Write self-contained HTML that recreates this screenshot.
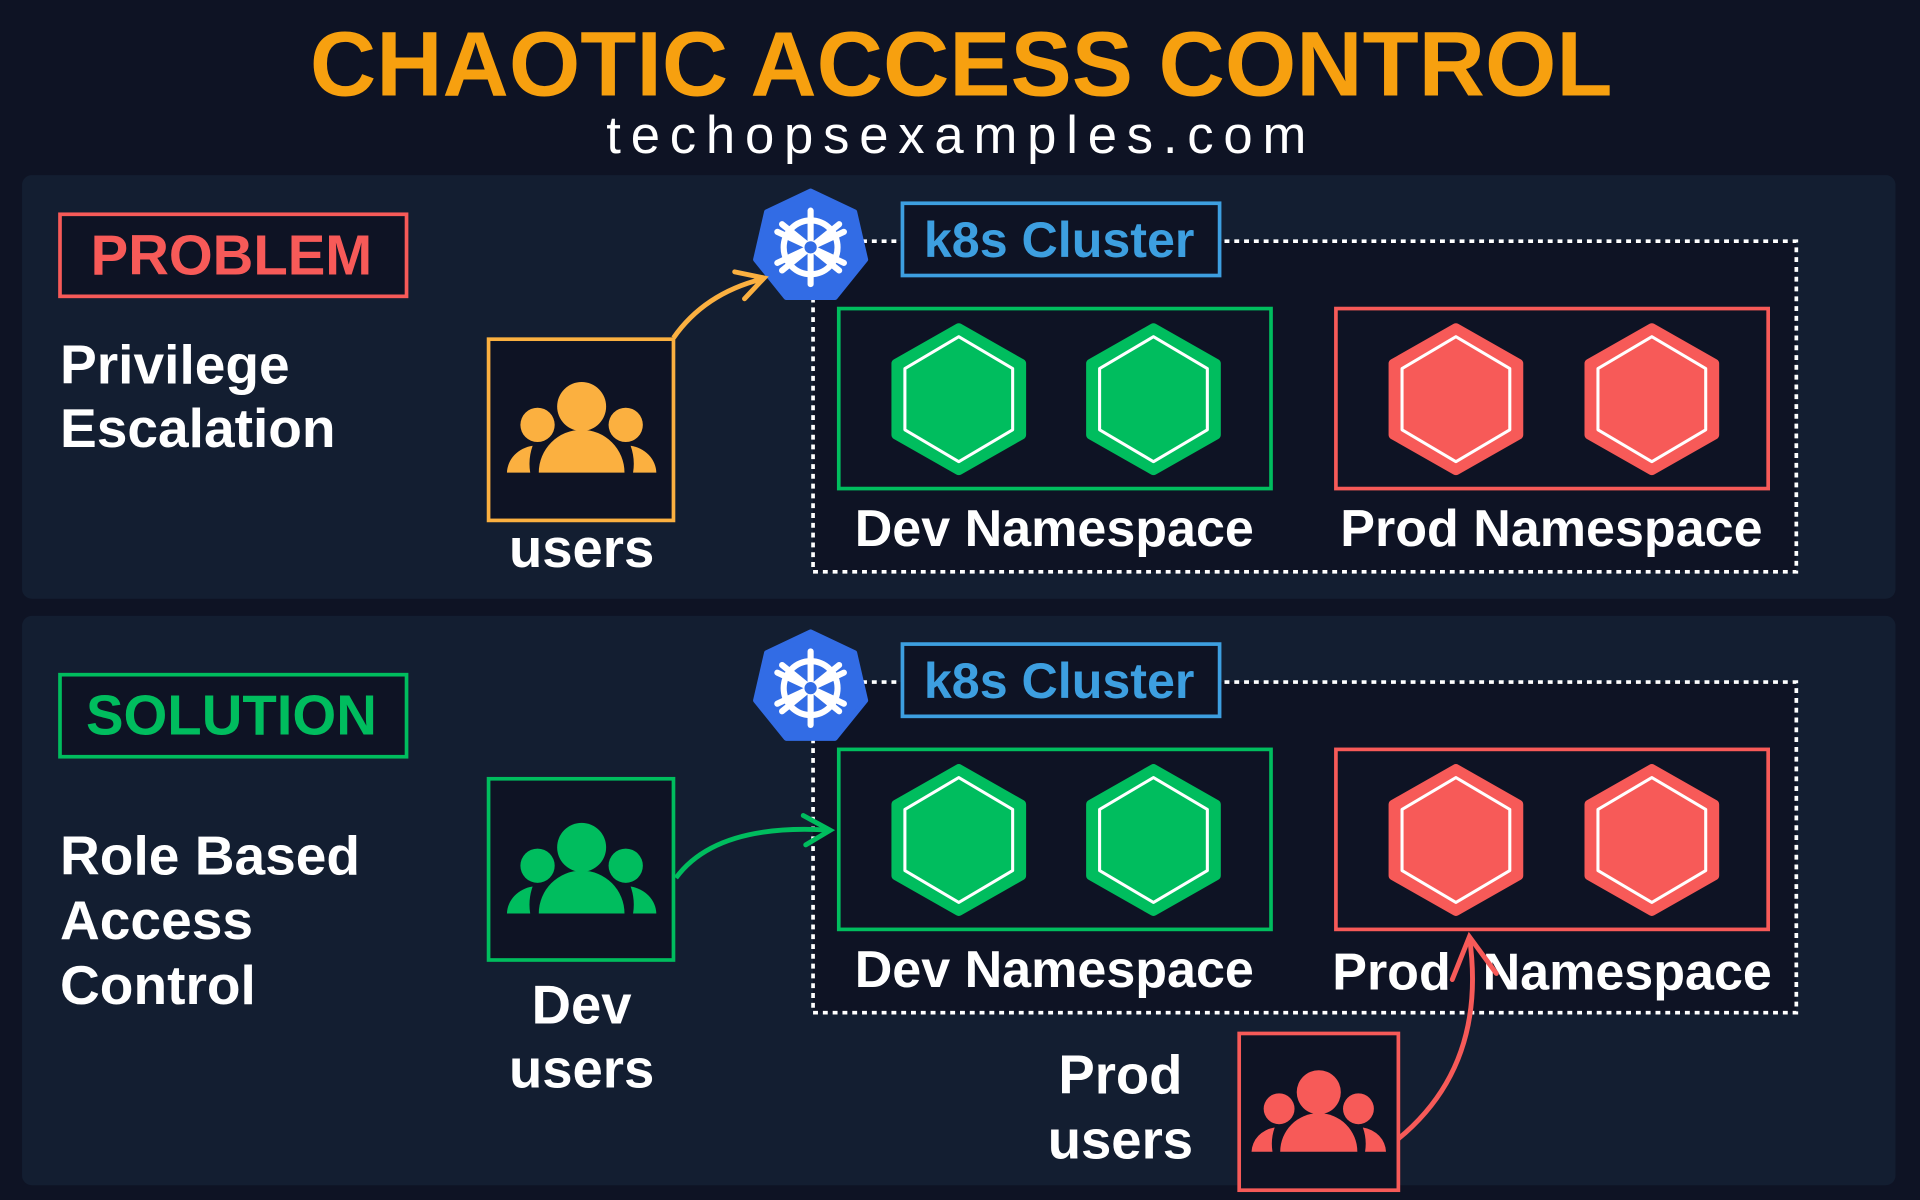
<!DOCTYPE html>
<html><head><meta charset="utf-8"><style>
html,body{margin:0;padding:0;background:#0e1324;}
svg{display:block}
text{font-family:"Liberation Sans",Arial,sans-serif;font-weight:bold}
</style></head><body>
<svg width="1920" height="1200" viewBox="0 0 1568 980" xmlns="http://www.w3.org/2000/svg">
<defs>
<g id="users">
  <circle cx="0" cy="-40" r="20"/>
  <circle cx="-36" cy="-25" r="14"/>
  <circle cx="36" cy="-25" r="14"/>
  <path d="M-35,14 A35,35 0 0 1 35,14 Z"/>
  <path d="M-61,14 A25,23 0 0 1 -40,-8 A44,44 0 0 0 -42,14 Z"/>
  <path d="M61,14 A25,23 0 0 0 40,-8 A44,44 0 0 1 42,14 Z"/>
</g>
<g id="k8s">
  <polygon points="0,-46 36,-29 45,10 20,41 -20,41 -45,10 -36,-29" fill="#326ce5" stroke="#326ce5" stroke-width="4" stroke-linejoin="round"/>
  <g stroke="#fff" stroke-width="5" fill="none" stroke-linecap="round">
    <circle cx="0" cy="0" r="22"/>
    <line x1="0" y1="-30" x2="0" y2="30"/>
    <line x1="-30" y1="0" x2="30" y2="0" transform="rotate(25)"/>
    <line x1="-30" y1="0" x2="30" y2="0" transform="rotate(-25)"/>
    <line x1="0" y1="-30" x2="0" y2="30" transform="rotate(51)"/>
    <line x1="0" y1="-30" x2="0" y2="30" transform="rotate(-51)"/>
  </g>
  <circle cx="0" cy="0" r="5" fill="#326ce5"/>
</g>
<g id="hexg">
  <polygon points="0,-58 51,-29 51,29 0,58 -51,29 -51,-29" fill="#00bd5e" stroke="#00bd5e" stroke-width="8" stroke-linejoin="round"/>
  <polygon points="0,-51 44,-25 44,25 0,51 -44,25 -44,-25" fill="none" stroke="#fff" stroke-width="2.5" stroke-linejoin="round"/>
</g>
<g id="hexr">
  <polygon points="0,-58 51,-29 51,29 0,58 -51,29 -51,-29" fill="#f75a58" stroke="#f75a58" stroke-width="8" stroke-linejoin="round"/>
  <polygon points="0,-51 44,-25 44,25 0,51 -44,25 -44,-25" fill="none" stroke="#fff" stroke-width="2.5" stroke-linejoin="round"/>
</g>
<g id="cluster">
  <rect x="664" y="197" width="803" height="270" fill="#0e1324" stroke="#fff" stroke-width="3" stroke-dasharray="4 4"/>
  <use href="#k8s" x="662" y="202"/>
  <rect x="737" y="166" width="259" height="59" fill="#0e1324" stroke="#3d9fe0" stroke-width="3"/>
  <text x="865" y="210" font-size="41" fill="#3d9fe0" text-anchor="middle">k8s Cluster</text>
  <rect x="685" y="252" width="353" height="147" fill="#0e1324" stroke="#00bd5e" stroke-width="3"/>
  <rect x="1091" y="252" width="353" height="147" fill="#0e1324" stroke="#f75a58" stroke-width="3"/>
  <use href="#hexg" x="783" y="326"/>
  <use href="#hexg" x="942" y="326"/>
  <use href="#hexr" x="1189" y="326"/>
  <use href="#hexr" x="1349" y="326"/>
  <text x="861" y="446" font-size="42.5" fill="#fff" text-anchor="middle">Dev Namespace</text>
</g>
</defs>
<rect width="1568" height="980" fill="#0e1324"/>
<text x="785" y="78" font-size="75" fill="#f7a00f" text-anchor="middle">CHAOTIC ACCESS CONTROL</text>
<text x="785" y="125" font-size="43" fill="#fff" text-anchor="middle" letter-spacing="8" style="font-weight:normal">techopsexamples.com</text>

<rect x="18" y="143" width="1530" height="346" rx="8" fill="#131e31"/>
<rect x="18" y="503" width="1530" height="465" rx="8" fill="#131e31"/>

<!-- Panel 1 -->
<rect x="49" y="175" width="283" height="67" fill="#0e1324" stroke="#f75a58" stroke-width="3"/>
<text x="189" y="224" font-size="46" fill="#f75a58" text-anchor="middle">PROBLEM</text>
<text x="49" y="313" font-size="45" fill="#fff">Privilege</text>
<text x="49" y="365" font-size="45" fill="#fff">Escalation</text>
<rect x="399" y="277" width="151" height="148" fill="#0e1324" stroke="#fbb040" stroke-width="3"/>
<use href="#users" x="475" y="372" fill="#fbb040"/>
<text x="475" y="463" font-size="44.5" fill="#fff" text-anchor="middle">users</text>
<use href="#cluster"/>
<text x="1267" y="446" font-size="42.5" fill="#fff" text-anchor="middle">Prod Namespace</text>
<path d="M550,276 Q575,240 622,228" fill="none" stroke="#fbb040" stroke-width="4"/>
<path d="M600,222 L624,227 L608,244" fill="none" stroke="#fbb040" stroke-width="4" stroke-linecap="round"/>

<!-- Panel 2 -->
<rect x="49" y="551" width="283" height="67" fill="#0e1324" stroke="#00bd5e" stroke-width="3"/>
<text x="189" y="600" font-size="46" fill="#00bd5e" text-anchor="middle">SOLUTION</text>
<text x="49" y="714" font-size="45" fill="#fff">Role Based</text>
<text x="49" y="767" font-size="45" fill="#fff">Access</text>
<text x="49" y="820" font-size="45" fill="#fff">Control</text>
<rect x="399" y="636" width="151" height="148" fill="#0e1324" stroke="#00bd5e" stroke-width="3"/>
<use href="#users" x="475" y="732" fill="#00bd5e"/>
<text x="475" y="836" font-size="44.5" fill="#fff" text-anchor="middle">Dev</text>
<text x="475" y="888" font-size="44.5" fill="#fff" text-anchor="middle">users</text>
<g transform="translate(0,360)"><use href="#cluster"/></g>
<text x="1088" y="808" font-size="42.5" fill="#fff">Prod</text>
<text x="1447" y="808" font-size="42.5" fill="#fff" text-anchor="end">Namespace</text>
<path d="M552,717 Q585,672 678,678" fill="none" stroke="#00bd5e" stroke-width="4"/>
<path d="M656,666 L678,678 L658,690" fill="none" stroke="#00bd5e" stroke-width="4" stroke-linecap="round"/>

<rect x="1012" y="844" width="130" height="128" fill="#0e1324" stroke="#f75a58" stroke-width="3"/>
<g transform="translate(1077,928) scale(0.9)"><use href="#users" fill="#f75a58"/></g>
<text x="915" y="893" font-size="44.5" fill="#fff" text-anchor="middle">Prod</text>
<text x="915" y="946" font-size="44.5" fill="#fff" text-anchor="middle">users</text>
<path d="M1142,930 Q1215,870 1200,765" fill="none" stroke="#f75a58" stroke-width="4"/>
<path d="M1186,800 L1200,765 L1222,795" fill="none" stroke="#f75a58" stroke-width="4" stroke-linecap="round"/>
</svg>
</body></html>
